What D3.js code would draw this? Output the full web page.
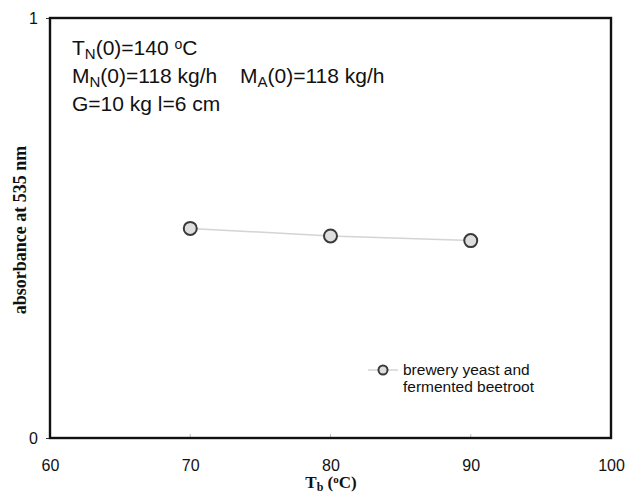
<!DOCTYPE html>
<html>
<head>
<meta charset="utf-8">
<script src="https://cdn.jsdelivr.net/npm/d3@7"></script>
<style>
body { margin: 0; background: #fff; }
svg { display: block; }
</style>
</head>
<body>
<svg id="chart"></svg>
<script>
const temps = [70, 80, 90];
const absorbance = [0.499, 0.481, 0.470];
const xTicks = [60, 70, 80, 90, 100];
const yTicks = [0, 1];
const seriesLabel = ["brewery yeast and", "fermented beetroot"];

const margin = {top: 18, right: 15, bottom: 55, left: 50},
    svgWidth = 626,
    svgHeight = 493,
    width = svgWidth - margin.left - margin.right,
    height = svgHeight - margin.top - margin.bottom;

const chart = d3.select('#chart')
    .attr("width", svgWidth)
    .attr("height", svgHeight);

const inner = chart.append("g")
    .attr("transform", "translate(" + margin.left + "," + margin.top + ")");

var xScale = d3.scaleLinear().domain([60, 100]).range([0, width]);
var yScale = d3.scaleLinear().domain([0, 1]).range([height, 0]);

var xAxis = d3.axisBottom(xScale).tickValues(xTicks).tickSize(0).tickPadding(22);
var yAxis = d3.axisLeft(yScale).tickValues(yTicks).tickFormat(d3.format("d")).tickSize(4).tickPadding(8);

inner.append("g")
    .attr("transform", "translate(0," + height + ")")
    .call(xAxis)
    .call(g => g.select(".domain").remove())
    .selectAll("text")
    .style("font-family", "Liberation Sans, Arial, sans-serif")
    .style("font-size", "16px")
    .style("fill", "#111");

// faint inner tick marks on the bottom axis
inner.append("g").selectAll("line")
    .data(xTicks.slice(1, -1))
    .enter()
    .append("line")
    .attr("x1", d => xScale(d)).attr("x2", d => xScale(d))
    .attr("y1", height).attr("y2", height - 4)
    .style("stroke", "#bbb");

inner.append("g")
    .call(yAxis)
    .call(g => g.select(".domain").remove())
    .call(g => g.selectAll("line").style("stroke", "#333"))
    .selectAll("text")
    .style("font-family", "Liberation Sans, Arial, sans-serif")
    .style("font-size", "16px")
    .style("fill", "#111");

inner.append("rect")
    .attr("x", 0).attr("y", 0)
    .attr("width", width).attr("height", height)
    .style("fill", "none")
    .style("stroke", "#111")
    .style("stroke-width", 2.4);

var valueline = d3.line()
    .x(function(d){ return xScale(d.t); })
    .y(function(d){ return yScale(d.v); });

var points = temps.map((t, i) => ({t: t, v: absorbance[i]}));

inner.append("path")
    .datum(points)
    .attr("d", valueline)
    .style("fill", "none")
    .style("stroke", "#d4d4d4")
    .style("stroke-width", 1.5);

inner.append("g").selectAll(".dot")
    .data(points)
    .enter()
    .append("circle")
    .attr("class", "dot")
    .attr("cx", d => xScale(d.t))
    .attr("cy", d => yScale(d.v))
    .attr("r", 6.5)
    .style("fill", "#dedede")
    .style("stroke", "#3a3a3a")
    .style("stroke-width", 2);

// legend
var legend = inner.append("g")
    .attr("transform", "translate(" + (383 - margin.left) + "," + (370 - margin.top) + ")");

legend.append("line")
    .attr("x1", -15).attr("x2", 15)
    .style("stroke", "#d4d4d4")
    .style("stroke-width", 1.5);

legend.append("circle")
    .attr("r", 4.5)
    .style("fill", "#dedede")
    .style("stroke", "#3a3a3a")
    .style("stroke-width", 2);

legend.selectAll("text")
    .data(seriesLabel)
    .enter()
    .append("text")
    .attr("x", 20)
    .attr("y", (d, i) => 5 + i * 17)
    .style("font-family", "Liberation Sans, Arial, sans-serif")
    .style("font-size", "15.5px")
    .style("fill", "#111")
    .text(d => d);

// annotations
function annot(x, y, parts) {
    var t = chart.append("text")
        .attr("x", x).attr("y", y)
        .style("font-family", "Liberation Sans, Arial, sans-serif")
        .style("font-size", "21px")
        .style("fill", "#111");
    parts.forEach(p => {
        var ts = t.append("tspan").text(p[0]);
        if (p[1] == "sub") ts.attr("baseline-shift", "-25%").style("font-size", "15px");
        else if (p[1] == "sup") ts.attr("baseline-shift", "45%").style("font-size", "14px");
    });
}

annot(72, 55, [["T"], ["N", "sub"], ["(0)=140 "], ["o", "sup"], ["C"]]);
annot(72, 83, [["M"], ["N", "sub"], ["(0)=118 kg/h"]]);
annot(240, 83, [["M"], ["A", "sub"], ["(0)=118 kg/h"]]);
annot(72, 111, [["G=10 kg l=6 cm"]]);

// axis titles
var xt = chart.append("text")
    .attr("x", 331).attr("y", 488)
    .attr("text-anchor", "middle")
    .style("font-family", "Liberation Serif, Times New Roman, serif")
    .style("font-weight", "bold")
    .style("font-size", "17px")
    .style("fill", "#111");
xt.append("tspan").text("T");
xt.append("tspan").text("b").attr("baseline-shift", "-25%").style("font-size", "12px");
xt.append("tspan").text(" (");
xt.append("tspan").text("o").attr("baseline-shift", "45%").style("font-size", "11px");
xt.append("tspan").text("C)");

chart.append("text")
    .attr("transform", "translate(26," + (margin.top + height / 2 + 2) + ") rotate(-90)")
    .attr("text-anchor", "middle")
    .style("font-family", "Liberation Serif, Times New Roman, serif")
    .style("font-weight", "bold")
    .style("font-size", "18px")
    .style("fill", "#111")
    .text("absorbance at 535 nm");
</script>
</body>
</html>
